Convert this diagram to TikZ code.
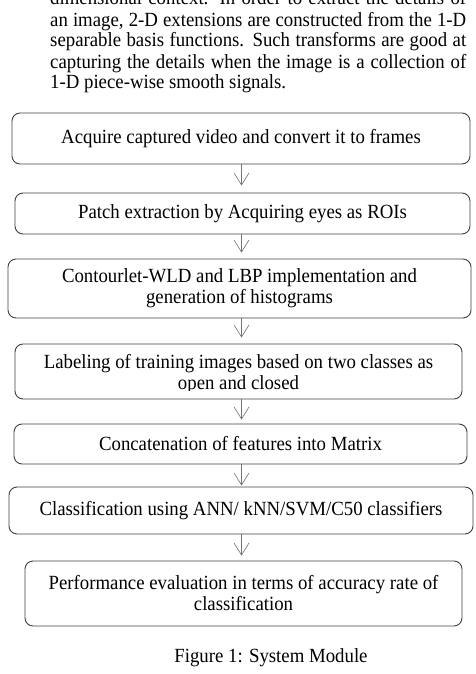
\documentclass[tikz,border=0pt]{standalone}
\usepackage{fontspec}
\setmainfont{Liberation Serif}[FakeStretch=0.935]
\usetikzlibrary{arrows.meta}

\tikzset{
  stage/.style={draw=black!75, line width=0.9pt, rounded corners=8pt, inner sep=0pt, align=center},
  stagetext/.style={inner sep=0pt, align=center},
  flow/.style={draw=black!55, line width=0.6pt, -{Straight Barb[length=12pt,width=15pt]}}
}

\begin{document}
\fontsize{20.1pt}{21pt}\selectfont
\begin{tikzpicture}[x=1pt,y=-1pt]
\useasboundingbox (0,0) rectangle (476,674);
\clip (0,0) rectangle (476,674);

\node[inner sep=0pt, anchor=base west] (para) at (50,89) {\vbox{\hsize=416pt \baselineskip=21pt
\hbox to \hsize{dimensional context. In order to extract the details of}
\hbox to \hsize{an image, 2-D extensions are constructed from the 1-D}
\hbox to \hsize{separable basis functions. Such transforms are good at}
\hbox to \hsize{capturing the details when the image is a collection of}
\hbox{1-D piece-wise smooth signals.}}};

\coordinate (spine) at (241.5,0);

\node[stage, minimum width=458pt, minimum height=51pt] (acquire) at (241,138.5) {Acquire captured video and convert it to frames};

\node[stage, minimum width=455pt, minimum height=41pt] (patch) at (242.5,213.5) {Patch extraction by Acquiring eyes as ROIs};

\node[stage, minimum width=463pt, minimum height=59pt] (contour) at (239.5,288.5) {Contourlet-WLD and LBP implementation and\\generation of histograms};

\node[stage, minimum width=447pt, minimum height=55pt] (label) at (238.5,371.5) {};
\begin{scope}
\clip ([xshift=2pt]label.north west) rectangle ([xshift=-2pt,yshift=9pt]label.south east);
\node[stagetext] (labeltext) at ([yshift=-2.5pt]label.center) {Labeling of training images based on two classes as\\open and closed};
\end{scope}

\node[stage, minimum width=453pt, minimum height=40pt] (concat) at (240.5,444) {Concatenation of features into Matrix};

\node[stage, minimum width=464pt, minimum height=47pt] (classify) at (241,510.5) {Classification using ANN/ kNN/SVM/C50 classifiers};

\node[stage, minimum width=437pt, minimum height=65pt] (evaluate) at (243.5,593.5) {Performance evaluation in terms of accuracy rate of\\classification};

\draw[flow, shorten >=7pt] (acquire.south -| spine) -- (patch.north -| spine);
\draw[flow, shorten >=6pt] (patch.south -| spine) -- (contour.north -| spine);
\draw[flow, shorten >=6pt] (contour.south -| spine) -- (label.north -| spine);
\draw[flow, shorten >=4pt] (label.south -| spine) -- (concat.north -| spine);
\draw[flow, shorten >=1pt] (concat.south -| spine) -- (classify.north -| spine);
\draw[flow, shorten >=5pt] (classify.south -| spine) -- (evaluate.north -| spine);

\node[inner sep=0pt, anchor=base] (caption) at (271,662) {Figure 1: System Module};
\end{tikzpicture}
\end{document}
